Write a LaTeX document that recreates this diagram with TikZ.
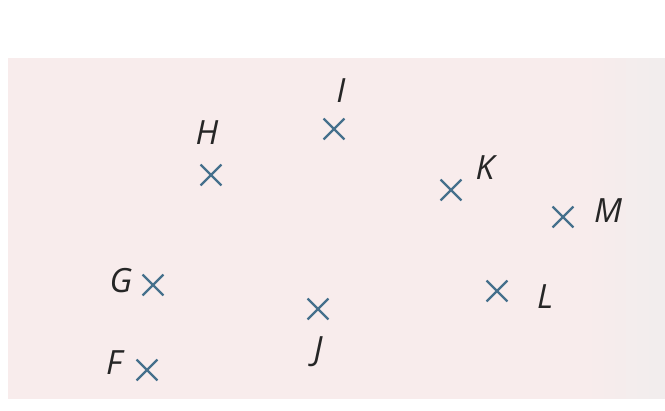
\documentclass[tikz,border=0pt]{standalone}
\usepackage{fontspec}
\setmainfont{Open Sans}
\usetikzlibrary{shapes.misc}
\definecolor{paper}{HTML}{F8ECEC}
\definecolor{mark}{HTML}{45708C}
\definecolor{edge}{HTML}{F1EDED}
\pgfdeclarehorizontalshading{paperfade}{100bp}{color(0bp)=(paper); color(69bp)=(paper); color(75bp)=(edge); color(100bp)=(edge)}

\begin{document}
\begin{tikzpicture}[x=0.02cm,y=-0.02cm,
  pt/.style={draw=mark,cross out,line width=1.3pt,minimum size=0.37cm,inner sep=0pt},
  lbl/.style={font=\fontsize{19}{22}\selectfont\itshape,text=black!85,inner sep=0pt}]
\useasboundingbox (0,0) rectangle (665,410);
\fill[white] (0,0) rectangle (665,410);
\shade[shading=paperfade] (8,58) rectangle (665,398);
% points
\node[pt] (I) at (334,129) {};
\node[pt] (H) at (211,175) {};
\node[pt] (K) at (451,190) {};
\node[pt] (M) at (563,217) {};
\node[pt] (G) at (153,285) {};
\node[pt] (L) at (497,291) {};
\node[pt] (J) at (318,309) {};
\node[pt] (F) at (147,370) {};
% names
\node[lbl] (nI) at (341,91) {I};
\node[lbl] (nH) at (207,133) {H};
\node[lbl] (nK) at (485,168) {K};
\node[lbl] (nM) at (608,211) {M};
\node[lbl] (nG) at (121,281) {G};
\node[lbl] (nL) at (545,297) {L};
\node[lbl] (nJ) at (318,352) {J};
\node[lbl] (nF) at (114,363) {F};
\end{tikzpicture}
\end{document}
